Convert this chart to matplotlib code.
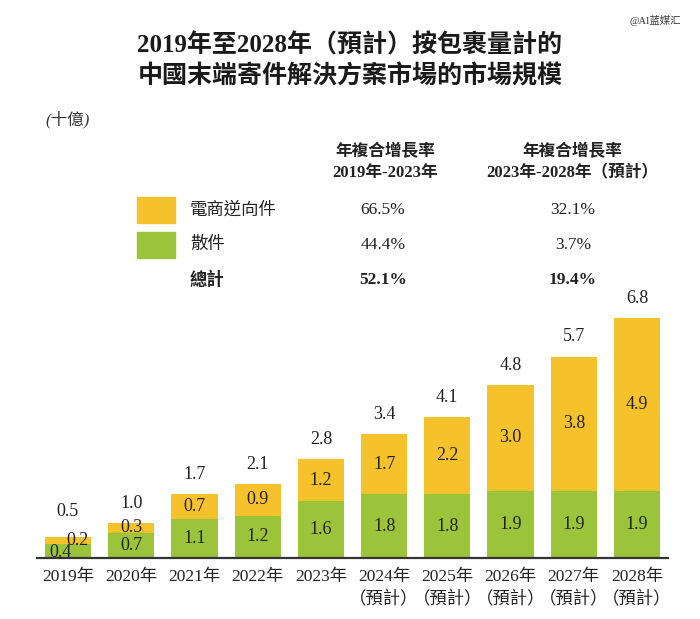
import matplotlib
matplotlib.use("Agg")
import matplotlib.pyplot as plt
from matplotlib.patches import Rectangle
import numpy as np

plt.rcParams['font.family'] = ['Liberation Serif', 'Noto Sans CJK TC', 'DejaVu Sans']

# data (十億件)
years = ["2019年", "2020年", "2021年", "2022年", "2023年",
         "2024年\n（預計）", "2025年\n（預計）", "2026年\n（預計）", "2027年\n（預計）", "2028年\n（預計）"]
loose = [0.4, 0.7, 1.1, 1.2, 1.6, 1.8, 1.8, 1.9, 1.9, 1.9]          # 散件
ecom_return = [0.2, 0.3, 0.7, 0.9, 1.2, 1.7, 2.2, 3.0, 3.8, 4.9]    # 電商逆向件
totals = [0.5, 1.0, 1.7, 2.1, 2.8, 3.4, 4.1, 4.8, 5.7, 6.8]

cagr_rows = ["電商逆向件", "散件", "總計"]
cagr_1923 = ["66.5%", "44.4%", "52.1%"]
cagr_2328 = ["32.1%", "3.7%", "19.4%"]

YELLOW = "#F5C22C"
GREEN = "#9CC43B"
W, H = 700, 619

def fx(x): return x / W
def fy(y): return 1 - y / H

fig = plt.figure(figsize=(7, 6.19), dpi=100)
ax = fig.add_axes([fx(37), fy(558), fx(668) - fx(37), fy(300) - fy(558)])

x = np.arange(len(years))
bw = 0.73
ax.bar(x, loose, bw, color=GREEN, zorder=2)
ax.bar(x, ecom_return, bw, bottom=loose, color=YELLOW, zorder=2)

for i in range(len(x)):
    dx_g, dx_y = (-0.12, 0.15) if i == 0 else (0, 0)
    ax.text(x[i] + dx_g, loose[i] / 2 - (0.05 if i == 0 else 0), f"{loose[i]:.1f}",
            ha="center", va="center", fontsize=13, color="#222222")
    ax.text(x[i] + dx_y, loose[i] + ecom_return[i] / 2, f"{ecom_return[i]:.1f}",
            ha="center", va="center", fontsize=13, color="#222222")
    ax.annotate(f"{totals[i]:.1f}", (x[i], loose[i] + ecom_return[i]),
                xytext=(0, 8 if i > 0 else 12), textcoords="offset points",
                ha="center", va="bottom", fontsize=13, color="#222222")

ax.set_xlim(-0.49, 9.49)
ax.set_ylim(0, 7.3)
for s in ["top", "right", "left"]:
    ax.spines[s].set_visible(False)
ax.spines["bottom"].set_color("#333333")
ax.spines["bottom"].set_linewidth(1.6)
ax.set_yticks([])
ax.set_xticks(x)
ax.set_xticklabels(years, fontsize=12.5, color="#222222", linespacing=1.45)
ax.tick_params(axis="x", length=0, pad=8)

# title
fig.text(fx(350), fy(45), "2019年至2028年（預計）按包裹量計的", ha="center", va="center",
         fontsize=18, fontweight="bold", color="#1a1a1a")
fig.text(fx(350), fy(76), "中國末端寄件解決方案市場的市場規模", ha="center", va="center",
         fontsize=18, fontweight="bold", color="#1a1a1a")
fig.text(fx(655), fy(20), "@AI蓝媒汇", ha="center", va="center", fontsize=7.5, color="#333333")
fig.text(fx(45), fy(120), "(十億)", ha="left", va="center", fontsize=12,
         style="italic", color="#333333")

# CAGR table
fig.text(fx(385), fy(152), "年複合增長率", ha="center", va="center", fontsize=12,
         fontweight="bold", color="#222222")
fig.text(fx(385), fy(173), "2019年-2023年", ha="center", va="center", fontsize=12,
         fontweight="bold", color="#222222")
fig.text(fx(572), fy(152), "年複合增長率", ha="center", va="center", fontsize=12,
         fontweight="bold", color="#222222")
fig.text(fx(572), fy(173), "2023年-2028年（預計）", ha="center", va="center", fontsize=12,
         fontweight="bold", color="#222222")

row_y = [210, 245, 280]
for j, name in enumerate(cagr_rows):
    bold = "bold" if j == 2 else "normal"
    if j < 2:
        fig.patches.append(Rectangle((fx(137), fy(row_y[j] + 13)), fx(38), 26 / H,
                                     transform=fig.transFigure,
                                     color=[YELLOW, GREEN][j]))
    fig.text(fx(190), fy(row_y[j]), name, ha="left", va="center", fontsize=12.5,
             fontweight=bold, color="#222222")
    fig.text(fx(383), fy(row_y[j]), cagr_1923[j], ha="center", va="center", fontsize=12.5,
             fontweight=bold, color="#222222")
    fig.text(fx(573), fy(row_y[j]), cagr_2328[j], ha="center", va="center", fontsize=12.5,
             fontweight=bold, color="#222222")

fig.savefig("out.png", dpi=100, facecolor="white")
